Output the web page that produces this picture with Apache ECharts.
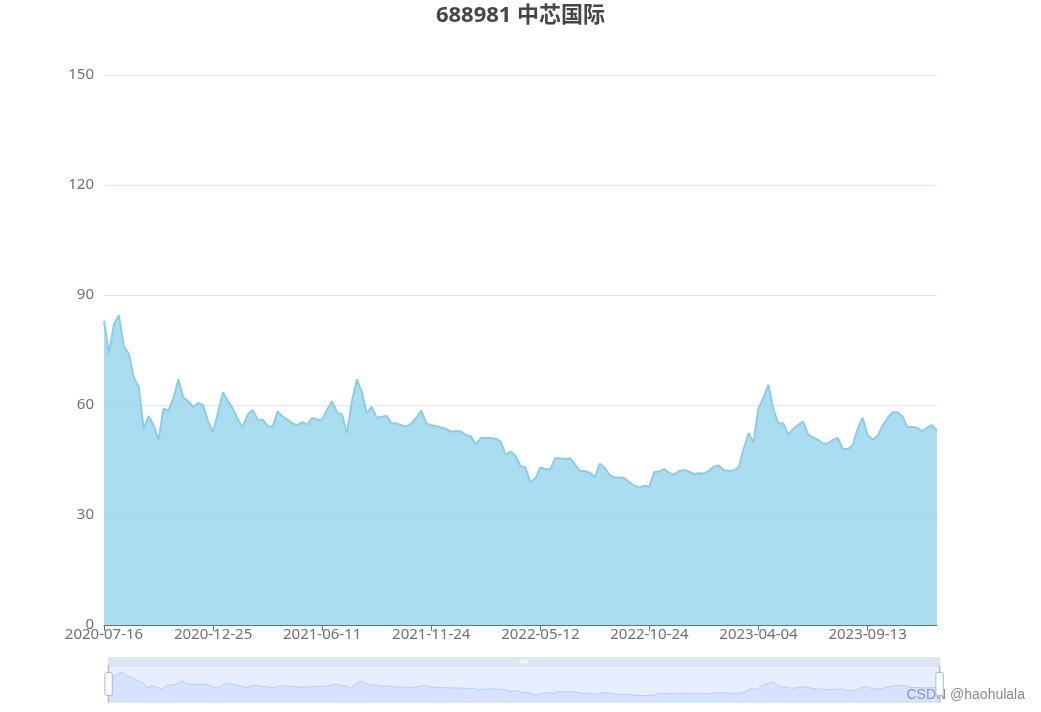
<!DOCTYPE html>
<html>
<head>
<meta charset="utf-8">
<title>688981 中芯国际</title>
<script src="https://cdn.jsdelivr.net/npm/echarts@6/dist/echarts.min.js"></script>
<style>
  html, body { margin: 0; padding: 0; background: #fff; }
  #canvus { width: 1041px; height: 712px; }
</style>
</head>
<body>
<div id="canvus"></div>
<script>
// 每5个交易日取一个收盘价
const dates = [
  '2020-07-16', '2020-07-23', '2020-07-30', '2020-08-06', '2020-08-13', '2020-08-20', '2020-08-27', '2020-09-03',
  '2020-09-10', '2020-09-17', '2020-09-24', '2020-10-09', '2020-10-16', '2020-10-23', '2020-10-30', '2020-11-06',
  '2020-11-13', '2020-11-20', '2020-11-27', '2020-12-04', '2020-12-11', '2020-12-18', '2020-12-25', '2021-01-04',
  '2021-01-11', '2021-01-18', '2021-01-25', '2021-02-01', '2021-02-08', '2021-02-22', '2021-03-01', '2021-03-08',
  '2021-03-15', '2021-03-22', '2021-03-29', '2021-04-06', '2021-04-13', '2021-04-20', '2021-04-27', '2021-05-07',
  '2021-05-14', '2021-05-21', '2021-05-28', '2021-06-04', '2021-06-11', '2021-06-21', '2021-06-28', '2021-07-05',
  '2021-07-12', '2021-07-19', '2021-07-26', '2021-08-02', '2021-08-09', '2021-08-16', '2021-08-23', '2021-08-30',
  '2021-09-06', '2021-09-13', '2021-09-22', '2021-09-29', '2021-10-13', '2021-10-20', '2021-10-27', '2021-11-03',
  '2021-11-10', '2021-11-17', '2021-11-24', '2021-12-01', '2021-12-08', '2021-12-15', '2021-12-22', '2021-12-29',
  '2022-01-06', '2022-01-13', '2022-01-20', '2022-01-27', '2022-02-10', '2022-02-17', '2022-02-24', '2022-03-03',
  '2022-03-10', '2022-03-17', '2022-03-24', '2022-03-31', '2022-04-11', '2022-04-18', '2022-04-25', '2022-05-05',
  '2022-05-12', '2022-05-19', '2022-05-26', '2022-06-02', '2022-06-10', '2022-06-17', '2022-06-24', '2022-07-01',
  '2022-07-08', '2022-07-15', '2022-07-22', '2022-07-29', '2022-08-05', '2022-08-12', '2022-08-19', '2022-08-26',
  '2022-09-02', '2022-09-09', '2022-09-19', '2022-09-26', '2022-10-10', '2022-10-17', '2022-10-24', '2022-10-31',
  '2022-11-07', '2022-11-14', '2022-11-21', '2022-11-28', '2022-12-05', '2022-12-12', '2022-12-19', '2022-12-26',
  '2023-01-03', '2023-01-10', '2023-01-17', '2023-01-31', '2023-02-07', '2023-02-14', '2023-02-21', '2023-02-28',
  '2023-03-07', '2023-03-14', '2023-03-21', '2023-03-28', '2023-04-04', '2023-04-12', '2023-04-19', '2023-04-26',
  '2023-05-08', '2023-05-15', '2023-05-22', '2023-05-29', '2023-06-05', '2023-06-12', '2023-06-19', '2023-06-28',
  '2023-07-05', '2023-07-12', '2023-07-19', '2023-07-26', '2023-08-02', '2023-08-09', '2023-08-16', '2023-08-23',
  '2023-08-30', '2023-09-06', '2023-09-13', '2023-09-20', '2023-09-27', '2023-10-12', '2023-10-19', '2023-10-26',
  '2023-11-02', '2023-11-09', '2023-11-16', '2023-11-23', '2023-11-30', '2023-12-07', '2023-12-14', '2023-12-21',
  '2023-12-28'
]

const closes = [
  82.9, 74.0, 82.0, 84.5, 76.0, 74.0, 67.5, 65.0, 53.5, 57.0, 54.5, 50.5, 59.0, 58.5, 61.8, 67.0,
  62.0, 61.0, 59.5, 60.5, 60.0, 55.5, 52.7, 58.0, 63.5, 61.0, 59.0, 56.0, 54.0, 57.5, 58.6, 56.0,
  56.0, 54.3, 54.0, 58.3, 56.8, 56.0, 55.0, 54.5, 55.3, 54.7, 56.5, 56.0, 56.0, 58.8, 61.0, 58.0,
  57.5, 52.3, 61.0, 67.0, 63.5, 57.7, 59.5, 56.5, 56.8, 57.0, 55.0, 55.0, 54.5, 54.1, 55.0, 56.6,
  58.5, 55.0, 54.5, 54.3, 53.8, 53.5, 52.7, 52.9, 52.8, 51.8, 51.5, 49.3, 51.0, 51.0, 51.0, 50.8,
  50.0, 46.5, 47.3, 46.2, 43.3, 43.0, 39.0, 40.0, 43.0, 42.5, 42.5, 45.5, 45.5, 45.3, 45.5, 43.8,
  42.0, 42.0, 41.5, 40.3, 44.0, 42.8, 40.9, 40.2, 40.2, 40.0, 38.8, 38.0, 37.5, 38.0, 37.8, 41.8,
  41.8, 42.5, 41.5, 41.0, 42.0, 42.3, 41.8, 41.2, 41.4, 41.3, 42.0, 43.2, 43.5, 42.3, 42.0, 42.2,
  43.0, 48.0, 52.3, 49.8, 59.2, 62.0, 65.5, 58.8, 55.0, 55.0, 52.0, 53.5, 54.5, 55.5, 52.0, 51.2,
  50.5, 49.5, 49.5, 50.5, 51.0, 48.0, 48.0, 49.0, 53.5, 56.5, 51.8, 50.5, 51.5, 54.3, 56.4, 58.0,
  58.0, 57.0, 54.0, 54.0, 53.8, 52.8, 53.8, 54.5, 53.0
]

// x轴上显示的日期
const tickLabels = [
  '2020-07-16', '2020-12-25', '2021-06-11', '2021-11-24',
  '2022-05-12', '2022-10-24', '2023-04-04', '2023-09-13'
]

const fontFamily = '"Microsoft YaHei", "Noto Sans", "Noto Sans CJK SC", sans-serif'

const myChart = echarts.init(document.getElementById('canvus'))

myChart.setOption({
  animation: false,
  title: {
    text: '688981 中芯国际',
    left: 'center',
    top: 0,
    textStyle: { fontSize: 22, fontWeight: 'bold', color: '#464646', fontFamily: fontFamily }
  },
  grid: { left: 104, right: 104, top: 75, bottom: 87 },
  xAxis: {
    type: 'category',
    boundaryGap: false,
    data: dates,
    axisLine: { lineStyle: { color: '#6E7079' } },
    axisTick: {
      length: 6,
      interval: (idx, val) => tickLabels.includes(val)
    },
    axisLabel: {
      margin: 2,
      fontSize: 15,
      color: '#6E7079',
      fontFamily: fontFamily,
      interval: (idx, val) => tickLabels.includes(val)
    }
  },
  yAxis: {
    type: 'value',
    min: 0,
    max: 150,
    interval: 30,
    axisLabel: { margin: 10, fontSize: 15, color: '#6E7079', fontFamily: fontFamily },
    splitLine: { lineStyle: { color: '#E0E6F1' } }
  },
  dataZoom: [{
    type: 'slider',
    left: 104,
    right: 104,
    bottom: 18,
    height: 37,
    start: 0,
    end: 100,
    borderColor: '#d2dbee',
    backgroundColor: 'rgba(47,69,84,0)',
    fillerColor: 'rgba(135,175,274,0.2)',
    dataBackground: {
      lineStyle: { color: '#d2dbee', width: 0.5 },
      areaStyle: { color: '#d2dbee', opacity: 0.2 }
    },
    selectedDataBackground: {
      lineStyle: { color: '#8fb0f7', width: 0.5 },
      areaStyle: { color: '#8fb0f7', opacity: 0.2 }
    },
    handleIcon: 'path://M-9.35,34.56V42m0-40V9.5m-2,0h4a2,2,0,0,1,2,2v21a2,2,0,0,1-2,2h-4a2,2,0,0,1-2-2v-21A2,2,0,0,1-11.35,9.5Z',
    handleSize: '100%',
    handleStyle: { color: '#fff', borderColor: '#ACB8D1' },
    moveHandleSize: 9,
    moveHandleStyle: { color: '#D2DBEE', opacity: 0.7 },
    showDetail: false
  }],
  graphic: [{
    type: 'text',
    right: 16,
    bottom: 10,
    style: {
      text: 'CSDN @haohulala',
      fontSize: 14,
      fontFamily: '"Liberation Sans", Arial, sans-serif',
      fill: '#8a8a8a'
    }
  }],
  series: [{
    name: '收盘价',
    type: 'line',
    data: closes,
    symbol: 'none',
    color: 'skyblue',
    lineStyle: { width: 2 },
    areaStyle: { opacity: 0.7 }
  }]
})
</script>
</body>
</html>
